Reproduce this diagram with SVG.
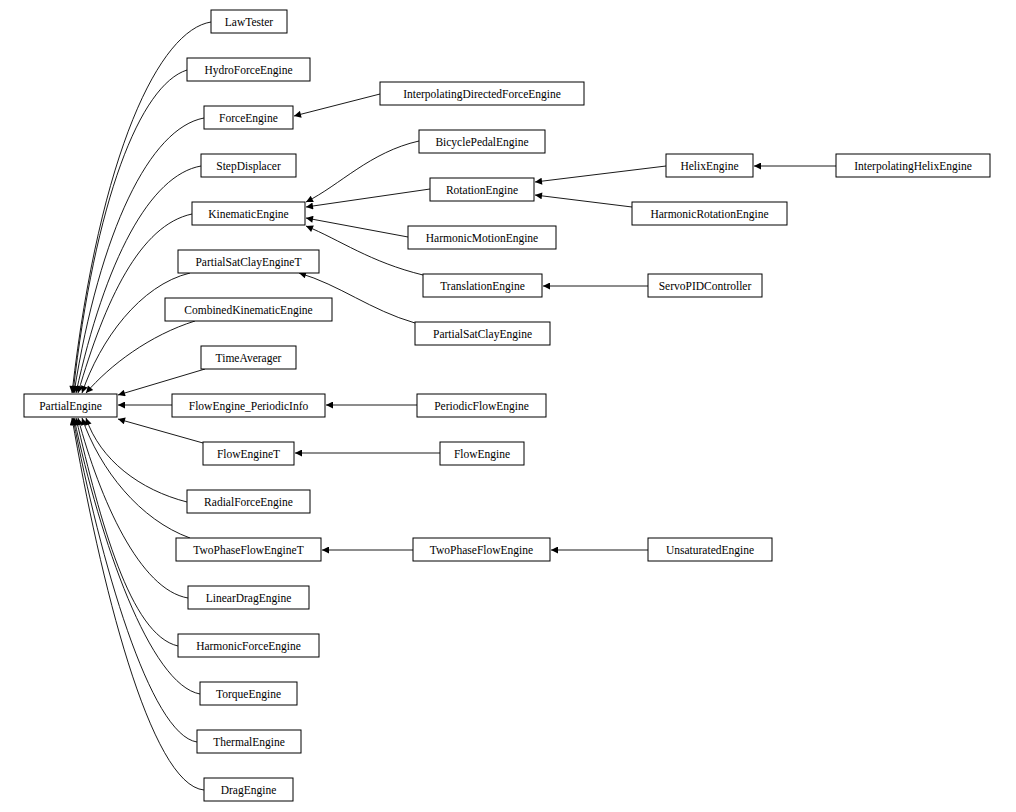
<svg xmlns="http://www.w3.org/2000/svg" width="1016" height="812" viewBox="0 0 1016 812">
<style>
rect{fill:#fff;stroke:#000;stroke-width:1}
text{font-family:"Liberation Serif","Times New Roman",serif;font-size:11.5px;text-anchor:middle;dominant-baseline:central;fill:#000}
#edges path{fill:none;stroke:#000;stroke-width:0.9;marker-end:url(#ah)}
</style>
<defs><marker id="ah" viewBox="0 0 10 10" refX="10" refY="5" markerWidth="10" markerHeight="7" markerUnits="userSpaceOnUse" orient="auto"><path d="M0,0L10,5L0,10z" fill="#000"/></marker></defs>
<rect x="0" y="0" width="1016" height="812" style="stroke:none"/>
<g id="edges">
<path d="M211,22 C160,30 100,150 72,393"/>
<path d="M187,70 C140,85 95,200 73,393"/>
<path d="M204,118 C150,128 100,230 74,393"/>
<path d="M201,166 C150,175 105,260 76,393"/>
<path d="M192,214 C140,225 105,300 78,393"/>
<path d="M190,273 C140,285 100,340 82,393"/>
<path d="M195,321 C150,335 110,365 86,393"/>
<path d="M205,369 L118,395"/>
<path d="M172,405 L118,405"/>
<path d="M203,443 L118,419"/>
<path d="M187,502 C140,490 100,460 86,418"/>
<path d="M190,538 C140,520 100,470 82,418"/>
<path d="M188,598 C140,590 100,500 78,418"/>
<path d="M178,646 C130,635 100,520 76,418"/>
<path d="M200,694 C150,685 100,540 74,418"/>
<path d="M197,742 C150,735 100,560 73,418"/>
<path d="M204,790 C150,785 100,580 72,418"/>
<path d="M380,94 L294,116"/>
<path d="M419,141 C370,152 340,185 306,202"/>
<path d="M430,189 L306,207"/>
<path d="M408,237 L306,218"/>
<path d="M423,275 C370,262 340,240 306,226"/>
<path d="M415,323 C370,310 340,285 299,273"/>
<path d="M666,166 L535,182"/>
<path d="M632,207 L535,195"/>
<path d="M836,166 L754,166"/>
<path d="M648,286 L543,286"/>
<path d="M417,405 L326,405"/>
<path d="M440,453 L295,453"/>
<path d="M413,550 L322,550"/>
<path d="M648,550 L551,550"/>
</g>
<g id="LawTester"><rect x="211" y="10" width="76" height="23"/><text x="249" y="21.5">LawTester</text></g>
<g id="HydroForceEngine"><rect x="187" y="58" width="123" height="23"/><text x="248.5" y="69.5">HydroForceEngine</text></g>
<g id="ForceEngine"><rect x="204" y="106" width="89" height="23"/><text x="248.5" y="117.5">ForceEngine</text></g>
<g id="StepDisplacer"><rect x="201" y="154" width="95" height="23"/><text x="248.5" y="165.5">StepDisplacer</text></g>
<g id="KinematicEngine"><rect x="192" y="202" width="113" height="23"/><text x="248.5" y="213.5">KinematicEngine</text></g>
<g id="PartialSatClayEngineT"><rect x="178" y="250" width="141" height="23"/><text x="248.5" y="261.5">PartialSatClayEngineT</text></g>
<g id="CombinedKinematicEngine"><rect x="165" y="298" width="167" height="23"/><text x="248.5" y="309.5">CombinedKinematicEngine</text></g>
<g id="TimeAverager"><rect x="201" y="346" width="95" height="23"/><text x="248.5" y="357.5">TimeAverager</text></g>
<g id="PartialEngine"><rect x="24" y="394" width="93" height="23"/><text x="70.5" y="405.5">PartialEngine</text></g>
<g id="FlowEngine_PeriodicInfo"><rect x="172" y="394" width="153" height="23"/><text x="248.5" y="405.5">FlowEngine_PeriodicInfo</text></g>
<g id="FlowEngineT"><rect x="203" y="442" width="91" height="23"/><text x="248.5" y="453.5">FlowEngineT</text></g>
<g id="RadialForceEngine"><rect x="187" y="490" width="123" height="23"/><text x="248.5" y="501.5">RadialForceEngine</text></g>
<g id="TwoPhaseFlowEngineT"><rect x="176" y="538" width="145" height="23"/><text x="248.5" y="549.5">TwoPhaseFlowEngineT</text></g>
<g id="LinearDragEngine"><rect x="188" y="586" width="121" height="23"/><text x="248.5" y="597.5">LinearDragEngine</text></g>
<g id="HarmonicForceEngine"><rect x="178" y="634" width="141" height="23"/><text x="248.5" y="645.5">HarmonicForceEngine</text></g>
<g id="TorqueEngine"><rect x="200" y="682" width="97" height="23"/><text x="248.5" y="693.5">TorqueEngine</text></g>
<g id="ThermalEngine"><rect x="197" y="730" width="104" height="23"/><text x="249" y="741.5">ThermalEngine</text></g>
<g id="DragEngine"><rect x="204" y="778" width="89" height="23"/><text x="248.5" y="789.5">DragEngine</text></g>
<g id="InterpolatingDirectedForceEngine"><rect x="380" y="82" width="204" height="23"/><text x="482" y="93.5">InterpolatingDirectedForceEngine</text></g>
<g id="BicyclePedalEngine"><rect x="419" y="130" width="126" height="23"/><text x="482" y="141.5">BicyclePedalEngine</text></g>
<g id="RotationEngine"><rect x="430" y="178" width="104" height="23"/><text x="482" y="189.5">RotationEngine</text></g>
<g id="HarmonicMotionEngine"><rect x="408" y="226" width="148" height="23"/><text x="482" y="237.5">HarmonicMotionEngine</text></g>
<g id="TranslationEngine"><rect x="423" y="274" width="119" height="23"/><text x="482.5" y="285.5">TranslationEngine</text></g>
<g id="PartialSatClayEngine"><rect x="415" y="322" width="135" height="23"/><text x="482.5" y="333.5">PartialSatClayEngine</text></g>
<g id="PeriodicFlowEngine"><rect x="417" y="394" width="129" height="23"/><text x="481.5" y="405.5">PeriodicFlowEngine</text></g>
<g id="FlowEngine"><rect x="440" y="442" width="84" height="23"/><text x="482" y="453.5">FlowEngine</text></g>
<g id="TwoPhaseFlowEngine"><rect x="413" y="538" width="137" height="23"/><text x="481.5" y="549.5">TwoPhaseFlowEngine</text></g>
<g id="HelixEngine"><rect x="666" y="154" width="87" height="23"/><text x="709.5" y="165.5">HelixEngine</text></g>
<g id="HarmonicRotationEngine"><rect x="632" y="202" width="155" height="23"/><text x="709.5" y="213.5">HarmonicRotationEngine</text></g>
<g id="ServoPIDController"><rect x="648" y="274" width="114" height="23"/><text x="705" y="285.5">ServoPIDController</text></g>
<g id="UnsaturatedEngine"><rect x="648" y="538" width="124" height="23"/><text x="710" y="549.5">UnsaturatedEngine</text></g>
<g id="InterpolatingHelixEngine"><rect x="836" y="154" width="154" height="23"/><text x="913" y="165.5">InterpolatingHelixEngine</text></g>
</svg>
